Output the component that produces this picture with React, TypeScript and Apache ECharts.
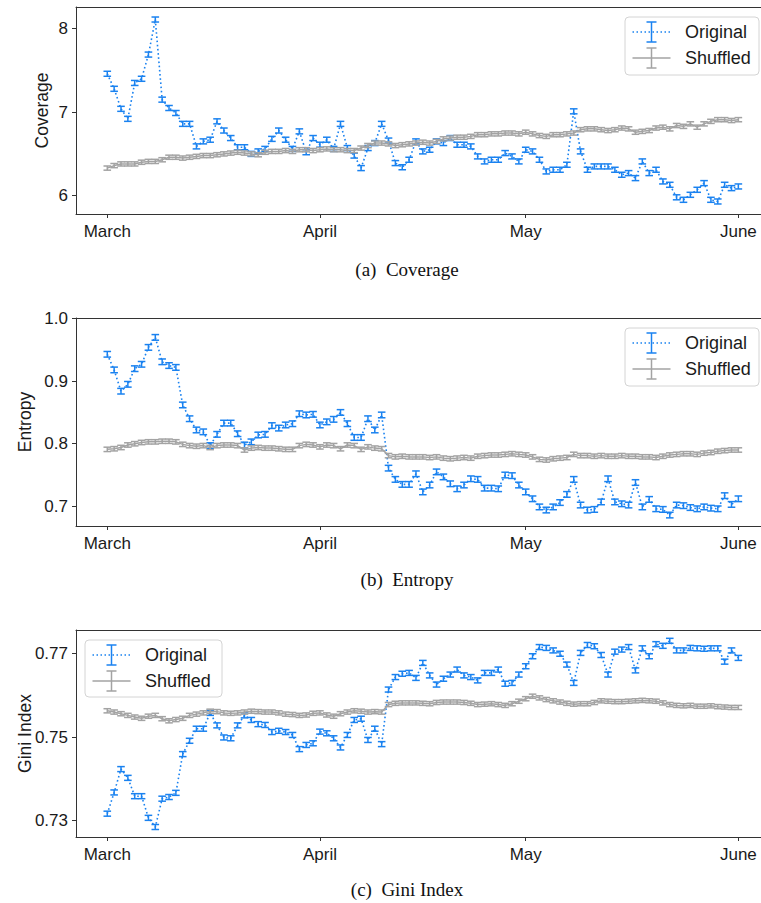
import React, { useEffect, useRef } from "react";
import * as echarts from "echarts";

// day index (0 = March 1 ... 92 = June 1)
const dayIndex: number[] = Array.from({ length: 93 }, (_, i) => i);
const monthTicks = [0, 31, 61, 92];
const monthLabels = ["March", "April", "May", "June"];

const coverageOriginal = [
  7.46, 7.28, 7.04, 6.92, 7.35, 7.40, 7.69, 8.11, 7.15, 7.05, 6.99, 6.86, 6.86, 6.59, 6.65, 6.67, 6.89, 6.78, 6.69, 6.58, 6.58, 6.50,
  6.53,
  6.56, 6.68, 6.78, 6.67, 6.56, 6.77, 6.52, 6.69, 6.61, 6.67, 6.56, 6.86, 6.57, 6.48, 6.33, 6.57, 6.63, 6.86, 6.66, 6.39, 6.34,
  6.43, 6.65,
  6.53, 6.55, 6.65, 6.63, 6.69, 6.61, 6.61, 6.59, 6.47, 6.41, 6.43, 6.43, 6.51, 6.47, 6.41, 6.55, 6.53, 6.43, 6.29, 6.31, 6.31, 6.37,
  7.01,
  6.53, 6.31, 6.35, 6.35, 6.35, 6.31, 6.25, 6.27, 6.21, 6.41, 6.27, 6.31, 6.17, 6.13, 5.98, 5.95, 6.01, 6.07, 6.15, 5.95, 5.93, 6.13, 6.09, 6.11,
];
const coverageShuffled = [
  6.33, 6.36, 6.38, 6.38, 6.38, 6.40, 6.41, 6.41, 6.43, 6.46, 6.46, 6.45, 6.46, 6.47, 6.48, 6.48, 6.49, 6.50, 6.51, 6.52, 6.51, 6.50,
  6.49, 6.52, 6.53, 6.53, 6.54, 6.53, 6.55, 6.55, 6.54, 6.55, 6.56, 6.55, 6.55, 6.54, 6.54, 6.57, 6.60, 6.63, 6.63, 6.62, 6.60, 6.61, 6.62,
  6.63, 6.64, 6.63, 6.65, 6.68, 6.69, 6.70, 6.70, 6.71, 6.73, 6.73, 6.74, 6.74, 6.75, 6.75, 6.74, 6.76, 6.74, 6.72, 6.71, 6.73, 6.73, 6.74,
  6.75, 6.79, 6.80, 6.80, 6.79, 6.78, 6.79, 6.81, 6.80, 6.76, 6.77, 6.78, 6.81, 6.82, 6.80, 6.84, 6.83, 6.86, 6.82, 6.86, 6.89, 6.91, 6.91, 6.90, 6.91,
];

const entropyOriginal = [
  0.943, 0.918, 0.884, 0.895, 0.920, 0.927, 0.954, 0.970, 0.931, 0.925, 0.922, 0.862, 0.840, 0.822, 0.819, 0.797, 0.815, 0.833, 0.833, 0.816,
  0.798, 0.803, 0.814, 0.815, 0.829, 0.825, 0.830, 0.832, 0.848, 0.846, 0.847, 0.830, 0.835, 0.839, 0.850, 0.832, 0.810, 0.810, 0.840, 0.822,
  0.846, 0.761, 0.743, 0.735, 0.735, 0.752,
  0.723, 0.734, 0.755, 0.747, 0.736, 0.728, 0.734, 0.744, 0.743, 0.729, 0.729, 0.728, 0.750, 0.749, 0.734, 0.723, 0.712, 0.699, 0.694, 0.699,
  0.706, 0.719, 0.743, 0.702, 0.694, 0.695, 0.707, 0.744, 0.707, 0.704, 0.702, 0.738, 0.699, 0.711, 0.696, 0.695, 0.686, 0.702, 0.701, 0.698,
  0.696, 0.699, 0.697, 0.696, 0.717, 0.703, 0.712,
];
const entropyShuffled = [
  0.791, 0.792, 0.794, 0.798, 0.800, 0.802, 0.803, 0.803, 0.804, 0.804, 0.803, 0.799, 0.797, 0.796, 0.797, 0.794, 0.797, 0.798, 0.798, 0.797,
  0.790, 0.793, 0.794, 0.793, 0.793, 0.792, 0.791, 0.791, 0.797, 0.799, 0.798, 0.795, 0.798, 0.797, 0.792, 0.798, 0.797, 0.791, 0.795, 0.793,
  0.792, 0.781, 0.779, 0.780, 0.779,
  0.779, 0.779, 0.778, 0.779, 0.777, 0.776, 0.777, 0.778, 0.777, 0.780, 0.781, 0.782, 0.782, 0.783, 0.784, 0.783, 0.782, 0.779, 0.775, 0.774,
  0.776, 0.777, 0.778, 0.783, 0.781, 0.781, 0.780, 0.781, 0.780, 0.780, 0.781, 0.780, 0.780, 0.779, 0.779, 0.778, 0.780, 0.782, 0.783, 0.784,
  0.784, 0.783, 0.785, 0.786, 0.788, 0.789, 0.790, 0.790,
];

const giniOriginal = [
  0.7316, 0.7367, 0.7423, 0.7402, 0.7358, 0.7358, 0.7306, 0.7284, 0.7352, 0.7356, 0.7366, 0.7459, 0.7491, 0.7520, 0.7520, 0.7558, 0.7528,
  0.7499, 0.7497, 0.7528, 0.7552, 0.7541, 0.7531, 0.7529, 0.7512, 0.7515, 0.7512, 0.7505, 0.7471, 0.7481, 0.7485, 0.7513, 0.7509, 0.7497,
  0.7475, 0.7505, 0.7541, 0.7544, 0.7493, 0.7520, 0.7483, 0.7614, 0.7644, 0.7652, 0.7654, 0.7642,
  0.7678, 0.7648, 0.7626, 0.7640, 0.7650, 0.7662, 0.7648, 0.7644, 0.7636, 0.7654, 0.7654, 0.7662, 0.7628, 0.7630, 0.7650, 0.7670, 0.7694,
  0.7716, 0.7714, 0.7708, 0.7700, 0.7674, 0.7630, 0.7702, 0.7721, 0.7718, 0.7697, 0.7650, 0.7705, 0.7710, 0.7716, 0.7660, 0.7713, 0.7694,
  0.7723, 0.7719, 0.7731, 0.7708, 0.7708, 0.7714, 0.7713, 0.7712, 0.7713, 0.7713, 0.7681, 0.7708, 0.7690,
];
const giniShuffled = [
  0.7563, 0.7560, 0.7556, 0.7552, 0.7548, 0.7545, 0.7550, 0.7552, 0.7544, 0.7539, 0.7542, 0.7545, 0.7552, 0.7555, 0.7558, 0.7562, 0.7561,
  0.7558, 0.7557, 0.7558, 0.7560, 0.7562, 0.7561, 0.7560, 0.7560, 0.7558, 0.7555, 0.7554, 0.7552, 0.7553, 0.7557, 0.7558, 0.7553, 0.7550,
  0.7556, 0.7560, 0.7563, 0.7562, 0.7560, 0.7561, 0.7560, 0.7578, 0.7581, 0.7582, 0.7582,
  0.7582, 0.7581, 0.7580, 0.7583, 0.7584, 0.7584, 0.7584, 0.7583, 0.7581, 0.7578, 0.7579, 0.7580, 0.7578, 0.7576, 0.7580, 0.7586, 0.7592,
  0.7598, 0.7594, 0.7590, 0.7587, 0.7584, 0.7581, 0.7579, 0.7580, 0.7580, 0.7583, 0.7587, 0.7586, 0.7585, 0.7585, 0.7586, 0.7587, 0.7588,
  0.7587, 0.7586, 0.7582, 0.7578, 0.7576, 0.7575, 0.7576, 0.7574, 0.7574, 0.7575, 0.7573, 0.7572, 0.7571, 0.7571,
];

// error bar half-widths (in data units): [original, shuffled]
const coverageErr = [0.03, 0.025];
const entropyErr = [0.0045, 0.0035];
const giniErr = [0.0006, 0.0005];

const BLUE = "#1a82f0";
const GRAY = "#a3a3a3";
const AXIS = "#333333";
const SANS = "'Liberation Sans', Arial, sans-serif";
const SERIF = "'Liberation Serif', 'Times New Roman', serif";

const X_MIN = -4.56;
const X_MAX = 95.3;

type Panel = {
  orig: number[];
  shuf: number[];
  err: number[];
  yMin: number;
  yMax: number;
  ticks: number[];
  dec: number;
  top: number;
  height: number;
  name: string;
  nameX: number;
  caption: string;
  captionY: number;
  legend: [number, number, number, number];
};

const panels: Panel[] = [
  {
    orig: coverageOriginal, shuf: coverageShuffled, err: coverageErr,
    yMin: 5.78, yMax: 8.26, ticks: [6, 7, 8], dec: 0,
    top: 7, height: 207, name: "Coverage", nameX: 42,
    caption: "(a)  Coverage", captionY: 269, legend: [625, 17, 134, 58],
  },
  {
    orig: entropyOriginal, shuf: entropyShuffled, err: entropyErr,
    yMin: 0.6685, yMax: 1.001, ticks: [0.7, 0.8, 0.9, 1.0], dec: 1,
    top: 318, height: 208, name: "Entropy", nameX: 25,
    caption: "(b)  Entropy", captionY: 579, legend: [625, 328, 134, 58],
  },
  {
    orig: giniOriginal, shuf: giniShuffled, err: giniErr,
    yMin: 0.726, yMax: 0.7757, ticks: [0.73, 0.75, 0.77], dec: 2,
    top: 630, height: 207, name: "Gini Index", nameX: 25,
    caption: "(c)  Gini Index", captionY: 889, legend: [85, 640, 137, 57],
  },
];

function errorBarSeries(data: number[], err: number, color: string, idx: number) {
  return {
    type: "custom",
    xAxisIndex: idx * 2,
    yAxisIndex: idx,
    silent: true,
    clip: false,
    encode: { x: 0, y: 1 },
    data: data.map((v, i) => [dayIndex[i], v, err]),
    renderItem: (_params: any, api: any) => {
      const x = api.value(0);
      const y = api.value(1);
      const e = api.value(2);
      const hi = api.coord([x, y + e]);
      const lo = api.coord([x, y - e]);
      const hw = 3.8;
      const style = { stroke: color, lineWidth: 1.5 };
      return {
        type: "group",
        children: [
          { type: "line", shape: { x1: hi[0], y1: hi[1], x2: lo[0], y2: lo[1] }, style },
          { type: "line", shape: { x1: hi[0] - hw, y1: hi[1], x2: hi[0] + hw, y2: hi[1] }, style },
          { type: "line", shape: { x1: lo[0] - hw, y1: lo[1], x2: lo[0] + hw, y2: lo[1] }, style },
        ],
      };
    },
  };
}

function legendGraphics(box: [number, number, number, number]) {
  const [x0, y0, w, h] = box;
  const cx = x0 + 26.5;
  const rows = [
    { y: y0 + 15, color: BLUE, dash: [1.5, 2.5], label: "Original" },
    { y: y0 + 41, color: GRAY, dash: null as any, label: "Shuffled" },
  ];
  const els: any[] = [
    {
      type: "rect",
      shape: { x: x0, y: y0, width: w, height: h, r: 4 },
      style: { fill: "rgba(255,255,255,0.85)", stroke: "#d4d4d4", lineWidth: 1 },
      z: 100,
    },
  ];
  rows.forEach((r) => {
    els.push({
      type: "line",
      shape: { x1: x0 + 7.5, y1: r.y, x2: x0 + 45.5, y2: r.y },
      style: { stroke: r.color, lineWidth: 1.5, lineDash: r.dash || undefined },
      z: 101,
    });
    els.push({
      type: "line",
      shape: { x1: cx, y1: r.y - 10, x2: cx, y2: r.y + 10 },
      style: { stroke: r.color, lineWidth: 1.5 },
      z: 101,
    });
    els.push({
      type: "line",
      shape: { x1: cx - 5, y1: r.y - 10, x2: cx + 5, y2: r.y - 10 },
      style: { stroke: r.color, lineWidth: 1.5 },
      z: 101,
    });
    els.push({
      type: "line",
      shape: { x1: cx - 5, y1: r.y + 10, x2: cx + 5, y2: r.y + 10 },
      style: { stroke: r.color, lineWidth: 1.5 },
      z: 101,
    });
    els.push({
      type: "text",
      x: x0 + 60,
      y: r.y,
      style: {
        text: r.label,
        fill: "#1a1a1a",
        font: `18px ${SANS}`,
        textAlign: "left",
        textVerticalAlign: "middle",
      },
      z: 101,
    });
  });
  return els;
}

export default function App() {
  const ref = useRef<HTMLDivElement>(null);

  useEffect(() => {
    if (!ref.current) return;
    const chart = echarts.init(ref.current, null, { renderer: "svg" });

    const grid: any[] = [];
    const xAxis: any[] = [];
    const yAxis: any[] = [];
    const series: any[] = [];
    const graphic: any[] = [];

    panels.forEach((p, i) => {
      grid.push({ left: 76, right: 0, top: p.top, height: p.height, containLabel: false });
      xAxis.push({
        type: "value",
        gridIndex: i,
        min: X_MIN,
        max: X_MAX,
        position: "bottom",
        axisLine: { show: true, onZero: false, lineStyle: { color: AXIS, width: 1 } },
        axisTick: { show: true, length: 4, lineStyle: { color: AXIS }, customValues: monthTicks },
        axisLabel: {
          show: true,
          customValues: monthTicks,
          margin: 9,
          fontSize: 17,
          fontFamily: SANS,
          color: "#1a1a1a",
          formatter: (v: number) => monthLabels[monthTicks.indexOf(Math.round(v))] ?? "",
        },
        splitLine: { show: false },
      });
      xAxis.push({
        type: "value",
        gridIndex: i,
        min: X_MIN,
        max: X_MAX,
        position: "top",
        axisLine: { show: true, onZero: false, lineStyle: { color: AXIS, width: 1 } },
        axisTick: { show: false },
        axisLabel: { show: false },
        splitLine: { show: false },
      });
      yAxis.push({
        type: "value",
        gridIndex: i,
        min: p.yMin,
        max: p.yMax,
        axisLine: { show: true, onZero: false, lineStyle: { color: AXIS, width: 1 } },
        axisTick: { show: true, length: 4, lineStyle: { color: AXIS }, customValues: p.ticks },
        axisLabel: {
          show: true,
          customValues: p.ticks,
          margin: 8,
          fontSize: 17,
          fontFamily: SANS,
          color: "#1a1a1a",
          formatter: (v: number) => v.toFixed(p.dec),
        },
        splitLine: { show: false },
      });

      series.push({
        type: "line",
        xAxisIndex: i * 2,
        yAxisIndex: i,
        data: p.orig.map((v, k) => [dayIndex[k], v]),
        symbol: "none",
        silent: true,
        lineStyle: { color: BLUE, width: 1.6, type: [1.6, 2.6] },
        z: 2,
      });
      series.push({ ...errorBarSeries(p.orig, p.err[0], BLUE, i), z: 3 });
      series.push({
        type: "line",
        xAxisIndex: i * 2,
        yAxisIndex: i,
        data: p.shuf.map((v, k) => [dayIndex[k], v]),
        symbol: "none",
        silent: true,
        lineStyle: { color: GRAY, width: 1.5 },
        z: 4,
      });
      series.push({ ...errorBarSeries(p.shuf, p.err[1], GRAY, i), z: 5 });

      graphic.push({
        type: "text",
        x: p.nameX,
        y: p.top + p.height / 2,
        rotation: Math.PI / 2,
        style: {
          text: p.name,
          fill: "#1a1a1a",
          font: `17.5px ${SANS}`,
          textAlign: "center",
          textVerticalAlign: "middle",
        },
      });
      graphic.push({
        type: "text",
        x: 407,
        y: p.captionY,
        style: {
          text: p.caption,
          fill: "#111",
          font: `19px ${SERIF}`,
          textAlign: "center",
          textVerticalAlign: "middle",
        },
      });
      legendGraphics(p.legend).forEach((g) => graphic.push(g));
    });

    chart.setOption({
      animation: false,
      backgroundColor: "#ffffff",
      grid,
      xAxis,
      yAxis,
      series,
      graphic,
    });

    return () => chart.dispose();
  }, []);

  return (
    <div
      ref={ref}
      style={{ position: "absolute", left: 0, top: 0, width: 761, height: 903, background: "#fff" }}
    />
  );
}
